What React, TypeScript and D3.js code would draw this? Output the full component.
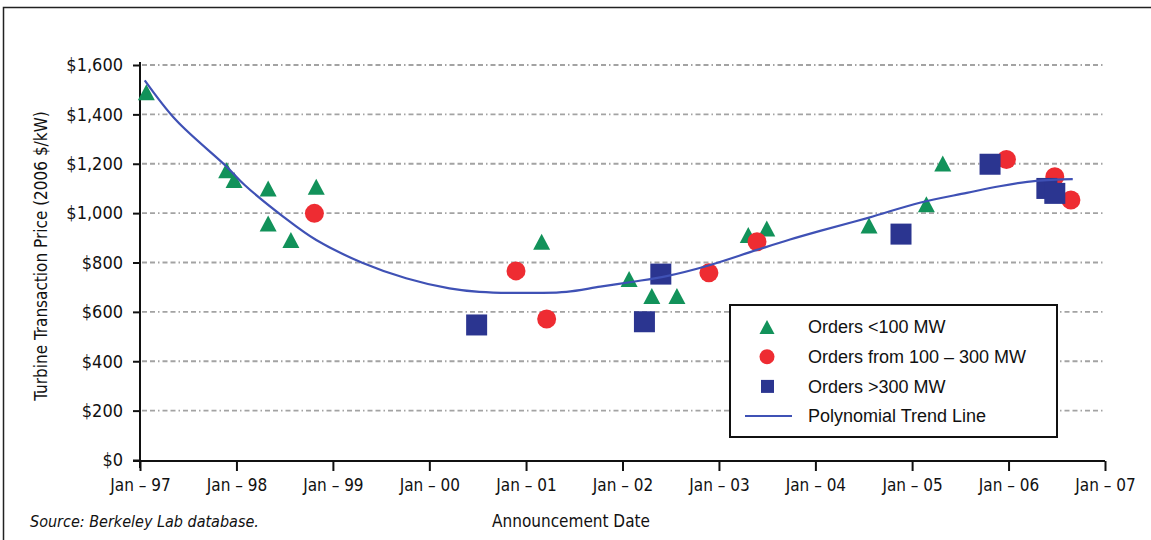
import { useEffect, useRef } from "react";
import * as d3 from "d3";

type Pt = { date: string; price: number };

// orders < 100 MW
const small: Pt[] = [
  { date: "1997-01-25", price: 1490 },
  { date: "1997-11-25", price: 1174 },
  { date: "1997-12-23", price: 1134 },
  { date: "1998-05-01", price: 1100 },
  { date: "1998-05-01", price: 958 },
  { date: "1998-07-26", price: 891 },
  { date: "1998-10-30", price: 1107 },
  { date: "2001-03-01", price: 884 },
  { date: "2002-01-26", price: 733 },
  { date: "2002-04-22", price: 664 },
  { date: "2002-07-26", price: 664 },
  { date: "2003-04-22", price: 911 },
  { date: "2003-07-01", price: 938 },
  { date: "2004-07-22", price: 950 },
  { date: "2005-02-24", price: 1036 },
  { date: "2005-04-27", price: 1201 },
];

// orders 100 - 300 MW
const medium: Pt[] = [
  { date: "1998-10-23", price: 999 },
  { date: "2000-11-24", price: 766 },
  { date: "2001-03-20", price: 571 },
  { date: "2002-11-24", price: 758 },
  { date: "2003-05-25", price: 884 },
  { date: "2005-12-24", price: 1217 },
  { date: "2006-06-25", price: 1147 },
  { date: "2006-08-25", price: 1053 },
];

// orders > 300 MW
const large: Pt[] = [
  { date: "2000-06-28", price: 547 },
  { date: "2002-03-25", price: 560 },
  { date: "2002-05-26", price: 753 },
  { date: "2004-11-20", price: 915 },
  { date: "2005-10-23", price: 1198 },
  { date: "2006-05-26", price: 1100 },
  { date: "2006-06-25", price: 1080 },
];

// polynomial trend line
const trend: Pt[] = [
  { date: "1997-01-19", price: 1538 },
  { date: "1997-05-18", price: 1376 },
  { date: "1997-11-25", price: 1188 },
  { date: "1998-02-02", price: 1113 },
  { date: "1998-06-28", price: 985 },
  { date: "1998-10-30", price: 891 },
  { date: "1999-04-22", price: 799 },
  { date: "1999-10-05", price: 736 },
  { date: "2000-03-17", price: 695 },
  { date: "2000-07-08", price: 681 },
  { date: "2001-02-24", price: 677 },
  { date: "2001-06-03", price: 681 },
  { date: "2001-10-09", price: 702 },
  { date: "2002-02-10", price: 722 },
  { date: "2002-06-17", price: 745 },
  { date: "2002-11-13", price: 785 },
  { date: "2003-05-22", price: 850 },
  { date: "2003-09-27", price: 893 },
  { date: "2004-01-19", price: 928 },
  { date: "2004-07-22", price: 982 },
  { date: "2005-01-30", price: 1042 },
  { date: "2005-07-27", price: 1082 },
  { date: "2005-11-28", price: 1109 },
  { date: "2006-04-16", price: 1131 },
  { date: "2006-09-01", price: 1138 },
];

const yTicks = [0, 200, 400, 600, 800, 1000, 1200, 1400, 1600];
const xTicks = ["1997", "1998", "1999", "2000", "2001", "2002", "2003", "2004", "2005", "2006", "2007"];
const legendLabels = ["Orders <100 MW", "Orders from 100 \u2013 300 MW", "Orders >300 MW", "Polynomial Trend Line"];

const GREEN = "#12925a";
const RED = "#ee2c32";
const BLUE = "#2b3590";
const LINE = "#3f51b5";
const NARROW = "'Liberation Sans Narrow', 'Arial Narrow', 'DejaVu Sans Condensed', sans-serif";
const SANS = "'Liberation Sans', Arial, sans-serif";

export default function App() {
  const ref = useRef<SVGSVGElement | null>(null);

  useEffect(() => {
    if (!ref.current) return;
    const svg = d3.select(ref.current);
    svg.selectAll("*").remove();

    const parse = (s: string) => new Date(s + "T00:00:00Z");
    const x = d3.scaleUtc()
      .domain([parse("1997-01-01"), parse("2007-01-01")])
      .range([140, 1105]);
    const y = d3.scaleLinear().domain([0, 1600]).range([460, 65]);

    // frame
    svg.append("path")
      .attr("d", "M3.5,540 V7.5 H1151")
      .attr("fill", "none")
      .attr("stroke", "#222")
      .attr("stroke-width", 1.5);

    // gridlines
    svg.append("g")
      .selectAll("line")
      .data(yTicks.filter(d => d > 0))
      .join("line")
      .attr("x1", 142).attr("x2", 1105)
      .attr("y1", d => y(d)).attr("y2", d => y(d))
      .attr("stroke", "#a3a3a3")
      .attr("stroke-width", 1.8)
      .attr("stroke-dasharray", "5,3,5,3,1.5,3");

    // y axis
    const ya = svg.append("g")
      .attr("transform", "translate(140,0)")
      .call(d3.axisLeft(y).tickValues(yTicks).tickSize(7).tickSizeOuter(0).tickPadding(10)
        .tickFormat(d => "$" + d3.format(",")(d as number)));
    ya.select(".domain").attr("stroke", "#111").attr("stroke-width", 2).attr("d", "M0,62V468");
    ya.selectAll(".tick line").attr("stroke", "#111").attr("stroke-width", 2);
    ya.selectAll(".tick text")
      .attr("font-family", NARROW).attr("font-size", 18).attr("fill", "#111");

    // x axis
    const xa = svg.append("g")
      .attr("transform", `translate(0,${y(0) + 1})`)
      .call(d3.axisBottom(x).tickValues(xTicks.map(s => parse(s + "-01-01")))
        .tickSize(10).tickSizeOuter(0).tickPadding(8)
        .tickFormat(d => "Jan \u2013 " + d3.utcFormat("%y")(d as Date)));
    xa.select(".domain").attr("stroke", "#111").attr("stroke-width", 2).attr("d", "M133,0H1105");
    xa.selectAll(".tick line").attr("stroke", "#111").attr("stroke-width", 2);
    xa.selectAll(".tick text")
      .attr("font-family", NARROW).attr("font-size", 17).attr("fill", "#111");

    // axis titles
    svg.append("text")
      .attr("transform", "translate(47,256) rotate(-90)")
      .attr("text-anchor", "middle")
      .attr("font-family", NARROW).attr("font-size", 17).attr("fill", "#111")
      .text("Turbine Transaction Price (2006 $/kW)");
    svg.append("text")
      .attr("x", 571).attr("y", 527)
      .attr("text-anchor", "middle")
      .attr("font-family", NARROW).attr("font-size", 17).attr("fill", "#111")
      .text("Announcement Date");
    svg.append("text")
      .attr("x", 30).attr("y", 527)
      .attr("font-family", NARROW).attr("font-size", 16).attr("font-style", "italic")
      .attr("fill", "#111")
      .text("Source: Berkeley Lab database.");

    const tri = (w: number, h: number) => `M0,${-h / 2}L${w / 2},${h / 2}L${-w / 2},${h / 2}Z`;

    // markers
    svg.append("g").selectAll("path")
      .data(small).join("path")
      .attr("transform", d => `translate(${x(parse(d.date))},${y(d.price)})`)
      .attr("d", tri(17, 16))
      .attr("fill", GREEN);

    svg.append("g").selectAll("circle")
      .data(medium).join("circle")
      .attr("cx", d => x(parse(d.date)))
      .attr("cy", d => y(d.price))
      .attr("r", 9.5)
      .attr("fill", RED);

    svg.append("g").selectAll("rect")
      .data(large).join("rect")
      .attr("x", d => x(parse(d.date)) - 10.5)
      .attr("y", d => y(d.price) - 10.5)
      .attr("width", 21).attr("height", 21)
      .attr("fill", BLUE);

    // trend line
    const line = d3.line<Pt>()
      .x(d => x(parse(d.date)))
      .y(d => y(d.price))
      .curve(d3.curveCatmullRom);
    svg.append("path")
      .datum(trend)
      .attr("fill", "none")
      .attr("stroke", LINE)
      .attr("stroke-width", 2.2)
      .attr("d", line);

    // legend
    const lg = svg.append("g").attr("transform", "translate(730,305)");
    lg.append("rect")
      .attr("width", 327).attr("height", 132)
      .attr("fill", "#fff").attr("stroke", "#111").attr("stroke-width", 2);
    const rowY = (i: number) => 22 + i * 29.7;
    lg.append("path").attr("transform", `translate(37,${rowY(0)})`).attr("d", tri(15, 14)).attr("fill", GREEN);
    lg.append("circle").attr("cx", 37).attr("cy", rowY(1)).attr("r", 7.5).attr("fill", RED);
    lg.append("rect").attr("x", 31).attr("y", rowY(2) - 6.5).attr("width", 13).attr("height", 13).attr("fill", BLUE);
    lg.append("line").attr("x1", 15).attr("x2", 62).attr("y1", rowY(3)).attr("y2", rowY(3))
      .attr("stroke", LINE).attr("stroke-width", 2);
    lg.selectAll("text.lab")
      .data(legendLabels).join("text")
      .attr("class", "lab")
      .attr("x", 78).attr("y", (_, i) => rowY(i))
      .attr("dy", "0.35em")
      .attr("font-family", SANS).attr("font-size", 18).attr("fill", "#111")
      .text(d => d);
  }, []);

  return (
    <svg ref={ref} width={1151} height={540}
      style={{ position: "absolute", left: 0, top: 0, background: "#fff" }}
      role="img" aria-label="Turbine transaction prices by announcement date" />
  );
}
